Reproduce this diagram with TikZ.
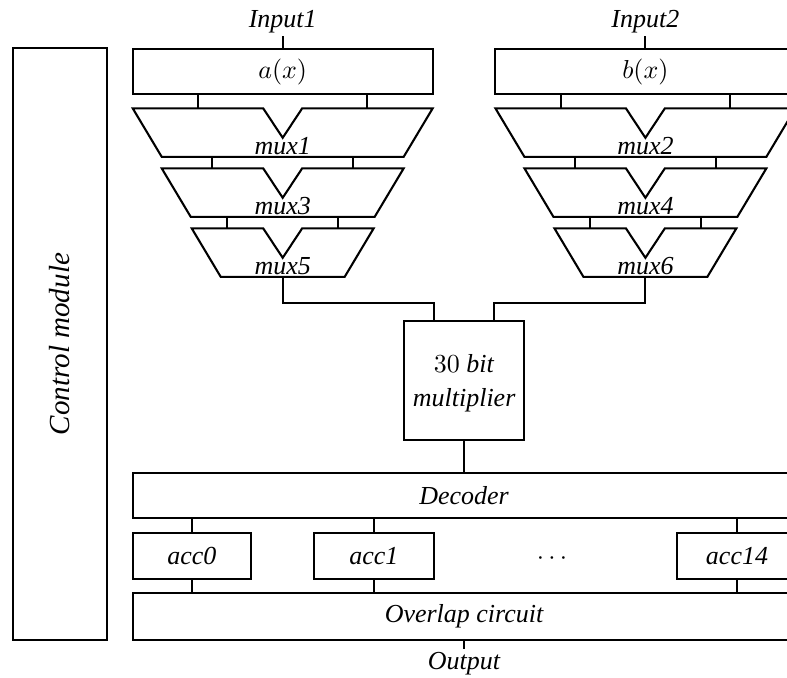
\documentclass[tikz,border=0pt]{standalone}
\usepackage[no-math]{fontspec}
\setmainfont{Liberation Serif}
\usetikzlibrary{fit}
\newcommand{\muxunit}[5]{% name, cx, top y, top half-width, label
  \draw[wire] ({#2-#4},#3) -- ({#2-19.5},#3) -- (#2,{#3+29.5}) -- ({#2+19.5},#3)
     -- ({#2+#4},#3) -- ({#2+#4-29},{#3+48.5}) -- ({#2-#4+29},{#3+48.5}) -- cycle;
  \node[lbl, anchor=base, inner sep=0pt] (#1) at (#2,{#3+46}) {#5};
  \coordinate (#1-tl) at ({#2-(#4+19.5)/2},#3);
  \coordinate (#1-tr) at ({#2+(#4+19.5)/2},#3);
  \coordinate (#1-b) at (#2,{#3+48.5});
}
\begin{document}
\begin{tikzpicture}[x=0.385pt,y=-0.385pt,
  box/.style={draw, line width=0.8pt, inner sep=0pt},
  wire/.style={line width=0.8pt},
  lbl/.style={font=\itshape}]
\useasboundingbox (0,0) rectangle (787,677);
\clip (0,0) rectangle (787,677);

% control module
\node[box, fit={(12.7,48.3) (107.3,640)}] (ctrl) {};
\node[font=\fontsize{11.2}{13}\itshape, rotate=90] (ctrltxt) at (ctrl.center) {Control module};

% inputs
\node[lbl, inner sep=1pt] (in1) at (282.7,22) {Input1};
\node[lbl, inner sep=1pt] (in2) at (645.4,22) {Input2};
\node[box, fit={(132.7,49.3) (432.7,94.3)}] (ax) {};
\node (axt) at (ax.center) {$a(x)$};
\node[box, fit={(495.4,49.3) (795.4,94.3)}] (bx) {};
\node (bxt) at (bx.center) {$b(x)$};
\draw[wire] (in1.south) -- (in1.south |- ax.north);
\draw[wire] (in2.south) -- (in2.south |- bx.north);

% multiplexers
\muxunit{m1}{282.7}{108.3}{150}{mux1}
\muxunit{m3}{282.7}{168.3}{121}{mux3}
\muxunit{m5}{282.7}{228.3}{91}{mux5}
\muxunit{m2}{645.4}{108.3}{150}{mux2}
\muxunit{m4}{645.4}{168.3}{121}{mux4}
\muxunit{m6}{645.4}{228.3}{91}{mux6}

\foreach \a/\b in {ax/m1, bx/m2}{
  \draw[wire] (\b-tl |- \a.south) -- (\b-tl);
  \draw[wire] (\b-tr |- \a.south) -- (\b-tr);
}
\foreach \a/\b in {m1/m3, m3/m5, m2/m4, m4/m6}{
  \draw[wire] (\b-tl |- \a-b) -- (\b-tl);
  \draw[wire] (\b-tr |- \a-b) -- (\b-tr);
}

% multiplier
\node[box, fit={(404.3,320.7) (524,440)}] (mult) {};
\node[align=center] (multt) at ([yshift=-1pt]mult.center) {$30$ \textit{bit}\\[1pt]\textit{multiplier}};
\coordinate (jy) at (0,302.7);
\coordinate (j1) at (434,320.7);
\coordinate (j2) at (494.3,320.7);
\draw[wire] (m5-b) -- (m5-b |- jy) -| (j1);
\draw[wire] (m6-b) -- (m6-b |- jy) -| (j2);

% decoder, accumulators, overlap
\node[box, fit={(132.7,472.7) (795.3,518.3)}] (dec) {};
\node[lbl] (dect) at (dec.center) {Decoder};
\draw[wire] (mult.south) -- (mult.south |- dec.north);
\node[box, fit={(132.7,532.7) (251,579)}] (acc0) {};
\node[lbl] (acc0t) at (acc0.center) {acc0};
\node[box, fit={(314,532.7) (433.6,579)}] (acc1) {};
\node[lbl] (acc1t) at (acc1.center) {acc1};
\node[box, fit={(677.4,532.7) (796.6,579)}] (acc14) {};
\node[lbl] (acc14t) at (acc14.center) {acc14};
\node (dots) at (552,559) {$\cdots$};
\node[box, fit={(132.7,593.3) (795.3,640)}] (ovl) {};
\node[lbl] (ovlt) at (ovl.center) {Overlap circuit};
\foreach \n in {acc0, acc1, acc14}{
  \draw[wire] (\n.north) -- (\n.north |- dec.south);
  \draw[wire] (\n.south) -- (\n.south |- ovl.north);
}
\node[lbl, inner sep=1pt] (out) at (464,663.3) {Output};
\draw[wire] (out.north |- ovl.south) -- (out.north);
\end{tikzpicture}
\end{document}
